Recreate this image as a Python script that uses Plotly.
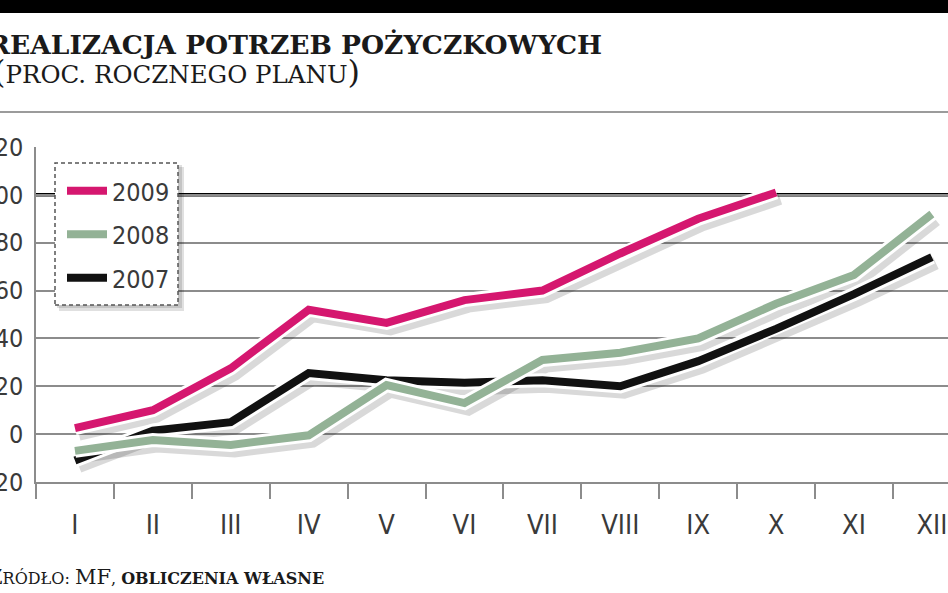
import plotly.graph_objects as go

# ---------------- data ----------------
months = ["I", "II", "III", "IV", "V", "VI", "VII", "VIII", "IX", "X", "XI", "XII"]
s2009 = [2.5, 10, 27.5, 52, 46.5, 56, 60, 75.5, 90, 101]
s2008 = [-7, -2.5, -4.5, -0.5, 20.5, 13, 31, 34, 40, 54.5, 66.5, 92]
s2007 = [-11, 1.5, 5, 25.5, 22.5, 21.5, 22.5, 20, 30.5, 44, 58.5, 74]
y_ticks = [-20, 0, 20, 40, 60, 80, 100, 120]
y_ticktext = [str(v) for v in y_ticks]
PLAN = 100

# ---------------- geometry ----------------
W, H = 948, 593
L, R, T, B = 36, 0, 147, 111
PW = W - L - R
PH = H - T - B


def px(xp):
    return (xp - L) / PW


def py(yp):
    return (H - B - yp) / PH


X_RANGE = [-0.5, 11.207]
Y_RANGE = [-20, 120]
ux = PW / (X_RANGE[1] - X_RANGE[0])
uy = PH / (Y_RANGE[1] - Y_RANGE[0])
SDX, SDY = 4 / ux, 6 / uy  # drop-shadow offset in data units

NARROW = "Liberation Sans Narrow, DejaVu Sans Condensed, Roboto, sans-serif"
SERIF = "DejaVu Serif, Liberation Serif, serif"
GRID = "#8c8c8c"

series = [
    ("2007", s2007, "#111111", 3),
    ("2008", s2008, "#93b296", 2),
    ("2009", s2009, "#d5176f", 1),
]

fig = go.Figure()

# invisible anchor trace on the main axes
fig.add_trace(go.Scatter(x=months, y=s2007, mode="lines", line=dict(width=0),
                         opacity=0, showlegend=False, hoverinfo="skip"))

# shadows (shifted overlay axes)
for name, vals, col, rank in series:
    fig.add_trace(go.Scatter(x=months[:len(vals)], y=vals, xaxis="x2", yaxis="y2",
                             mode="lines", line=dict(color="rgba(0,0,0,0.15)", width=13),
                             showlegend=False, hoverinfo="skip"))

# lines with white outline
for name, vals, col, rank in series:
    fig.add_trace(go.Scatter(x=months[:len(vals)], y=vals, xaxis="x3", yaxis="y3",
                             mode="lines", line=dict(color="white", width=14),
                             showlegend=False, hoverinfo="skip", legendgroup=name))
    fig.add_trace(go.Scatter(x=months[:len(vals)], y=vals, xaxis="x3", yaxis="y3",
                             mode="lines", line=dict(color=col, width=8),
                             name=name, legendgroup=name, legendrank=rank))

shapes = [
    # thick 100% line
    dict(type="line", xref="paper", x0=0, x1=1, yref="y", y0=PLAN, y1=PLAN,
         line=dict(color="#000000", width=3.5), layer="below"),
    # top black bar
    dict(type="rect", xref="paper", yref="paper", x0=px(0), x1=px(W), y0=py(13), y1=py(-5),
         fillcolor="#000000", line=dict(width=0), layer="above"),
    # separator under title
    dict(type="line", xref="paper", yref="paper", x0=px(0), x1=px(W), y0=py(112), y1=py(112),
         line=dict(color="#7a7a7a", width=1.5), layer="above"),
    # legend shadow
    dict(type="rect", xref="paper", yref="paper", x0=px(59), x1=px(184), y0=py(311), y1=py(167),
         fillcolor="rgba(0,0,0,0.12)", line=dict(width=0), layer="above"),
    dict(type="rect", xref="paper", yref="paper", x0=px(57), x1=px(182), y0=py(308), y1=py(165),
         fillcolor="rgba(0,0,0,0.12)", line=dict(width=0), layer="above"),
    # legend box with dashed border
    dict(type="rect", xref="paper", yref="paper", x0=px(55), x1=px(178), y0=py(305), y1=py(163),
         fillcolor="white", line=dict(color="#555555", width=1.5, dash="4px,3px"), layer="above"),
]

annotations = [
    dict(text="<b>REALIZACJA POTRZEB POŻYCZKOWYCH</b>", xref="paper", yref="paper",
         x=px(-14), y=py(45), xanchor="left", yanchor="middle", showarrow=False,
         font=dict(family=SERIF, size=26.5, color="#1a1a1a")),
    dict(text='<span style="font-size:32px">(</span>PROC. ROCZNEGO PLANU<span style="font-size:32px">)</span>',
         xref="paper", yref="paper", x=px(-9), y=py(72), xanchor="left", yanchor="middle",
         showarrow=False, font=dict(family=SERIF, size=24.5, color="#1a1a1a")),
    dict(text='<span style="font-size:21px">Ź</span>RÓDŁO: <span style="font-size:21px">MF</span>, <b>OBLICZENIA WŁASNE</b>',
         xref="paper", yref="paper", x=px(-14), y=py(577), xanchor="left", yanchor="middle",
         showarrow=False, font=dict(family=SERIF, size=16, color="#1a1a1a")),
]

fig.update_layout(
    width=W, height=H,
    margin=dict(l=L, r=R, t=T, b=B, pad=0),
    paper_bgcolor="white", plot_bgcolor="white",
    showlegend=True,
    legend=dict(x=px(62), y=py(168), xanchor="left", yanchor="top",
                bgcolor="rgba(0,0,0,0)", borderwidth=0, tracegroupgap=8,
                itemwidth=40, font=dict(family=NARROW, size=25, color="#3a3a3a"),
                traceorder="grouped"),
    xaxis=dict(type="category", categoryorder="array", categoryarray=months,
               range=X_RANGE, tickson="boundaries", ticks="outside", ticklen=15,
               tickwidth=1.5, tickcolor=GRID, showline=True, linecolor=GRID, linewidth=1.5,
               showgrid=False, zeroline=False, automargin=False, ticklabelstandoff=18,
               tickfont=dict(family=NARROW, size=27, color="#3a3a3a"), fixedrange=True),
    yaxis=dict(range=Y_RANGE, tickvals=y_ticks, ticktext=y_ticktext, showgrid=True,
               gridcolor=GRID, gridwidth=1.5, showline=True, linecolor=GRID, linewidth=1.5,
               zeroline=False, ticks="", automargin=False, ticklabelstandoff=6,
               tickfont=dict(family=NARROW, size=25, color="#3a3a3a"), fixedrange=True),
    xaxis2=dict(type="category", categoryorder="array", categoryarray=months,
                overlaying="x", range=[X_RANGE[0] - SDX, X_RANGE[1] - SDX], visible=False,
                showgrid=False, fixedrange=True),
    yaxis2=dict(overlaying="y", range=[Y_RANGE[0] + SDY, Y_RANGE[1] + SDY], visible=False,
                showgrid=False, fixedrange=True),
    xaxis3=dict(type="category", categoryorder="array", categoryarray=months,
                overlaying="x", range=X_RANGE, visible=False, showgrid=False, fixedrange=True),
    yaxis3=dict(overlaying="y", range=Y_RANGE, visible=False, showgrid=False, fixedrange=True),
    shapes=shapes,
    annotations=annotations,
)

fig.write_html("out.html")
